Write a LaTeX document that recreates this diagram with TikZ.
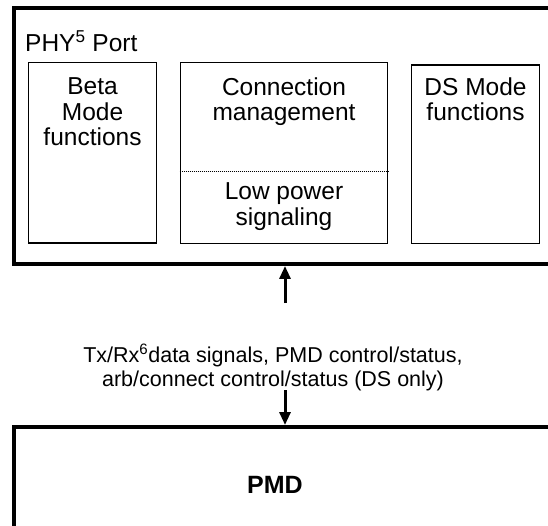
\documentclass[tikz,border=0pt]{standalone}
\usepackage{fontspec}
\setmainfont{Liberation Sans}
\usetikzlibrary{arrows.meta}
\begin{document}
\begin{tikzpicture}[x=1pt,y=-1pt,
  outerbox/.style={draw,line width=4pt,inner sep=0pt},
  innerbox/.style={draw,line width=1.6pt,inner sep=0pt},
  bigtxt/.style={font=\fontsize{24.5}{25.5}\selectfont,align=center,inner sep=0pt,anchor=base},
  smalltxt/.style={font=\fontsize{21.5}{23.5}\selectfont,align=center,inner sep=0pt,anchor=base},
  divider/.style={line width=1pt,dash pattern=on 1pt off 1pt},
  arr/.style={line width=3pt,-{Triangle[length=13pt,width=11pt]}}]
\useasboundingbox (0,0) rectangle (548,526);
\clip (0,0) rectangle (548,526);
% outer boxes
\node[outerbox,minimum width=556.5pt,minimum height=256pt] (phy) at (291.75,136) {};
\node[outerbox,minimum width=556.5pt,minimum height=173pt] (pmd) at (291.75,513.5) {};
% inner boxes
\node[innerbox,minimum width=128pt,minimum height=180.5pt] (beta) at (92.5,152.75) {};
\node[innerbox,minimum width=207pt,minimum height=181pt] (cm) at (284,153) {};
\node[innerbox,minimum width=128pt,minimum height=178.5pt] (ds) at (475.5,154.25) {};
\draw[divider] ([yshift=-109.5pt]cm.north west) -- ([yshift=-109.5pt]cm.north east);
% texts (anchor base = baseline of last line)
\node[bigtxt,anchor=base west] (phylbl) at (25,52) {PHY\textsuperscript{5} Port};
\node[bigtxt] (betatxt) at (92.5,146) {Beta\\Mode\\functions};
\node[bigtxt] (cmtxt) at (284,121) {Connection\\management};
\node[bigtxt,font=\fontsize{24.5}{26.5}\selectfont] (lptxt) at (284,226) {Low power\\signaling};
\node[bigtxt] (dstxt) at (475.5,121) {DS Mode\\functions};
\node[smalltxt] (sig) at (273,386) {Tx/Rx\textsuperscript{6}data signals, PMD control/status,\\arb/connect control/status (DS only)};
\node[bigtxt,font=\fontsize{25}{28}\selectfont\bfseries] (pmdtxt) at (275,493) {PMD};
% connectors
\coordinate (upstart) at (285,303);
\coordinate (downstart) at (285,390);
\draw[arr] (upstart) -- (upstart |- phy.south);
\draw[arr] (downstart) -- (downstart |- pmd.north);
\end{tikzpicture}
\end{document}
